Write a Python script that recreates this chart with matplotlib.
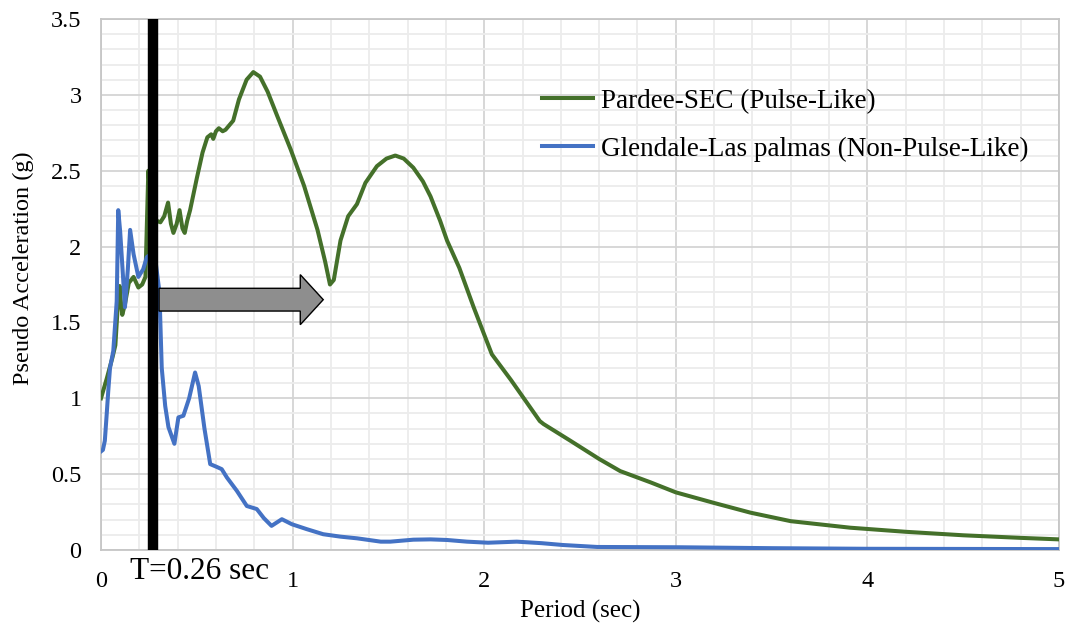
import matplotlib
matplotlib.use("Agg")
import matplotlib.pyplot as plt
from matplotlib.patches import FancyArrow
from matplotlib.ticker import MultipleLocator

plt.rcParams['font.family'] = ['Liberation Serif', 'DejaVu Serif']

# ---- data ----
pardee_T = [0, 0.03, 0.06, 0.075, 0.089, 0.097, 0.105, 0.111, 0.125, 0.145, 0.17, 0.195,
            0.215, 0.232, 0.247, 0.26, 0.29, 0.31, 0.33, 0.35, 0.365, 0.378, 0.395, 0.41,
            0.425, 0.437, 0.45, 0.465, 0.50, 0.53, 0.555, 0.575, 0.586, 0.60, 0.615, 0.635,
            0.65, 0.69, 0.72, 0.76, 0.795, 0.83, 0.87, 0.92, 0.99, 1.06, 1.13, 1.17, 1.195,
            1.215, 1.25, 1.29, 1.336, 1.38, 1.44, 1.49, 1.536, 1.58, 1.63, 1.68, 1.72, 1.77,
            1.806, 1.87, 1.945, 2.0, 2.04, 2.14, 2.29, 2.31, 2.45, 2.6, 2.71, 2.87, 3.0, 3.2,
            3.39, 3.6, 3.91, 4.2, 4.5, 4.8, 5.0]
pardee_SA = [1.0, 1.13, 1.27, 1.35, 1.64, 1.74, 1.62, 1.55, 1.62, 1.76, 1.80, 1.73,
             1.75, 1.80, 2.50, 2.30, 2.17, 2.16, 2.20, 2.29, 2.15, 2.09, 2.15, 2.24,
             2.12, 2.09, 2.17, 2.24, 2.45, 2.62, 2.72, 2.74, 2.71, 2.76, 2.78, 2.76,
             2.77, 2.83, 2.97, 3.10, 3.15, 3.12, 3.02, 2.86, 2.64, 2.40, 2.11, 1.90, 1.75,
             1.78, 2.04, 2.20, 2.28, 2.42, 2.53, 2.58, 2.60, 2.58, 2.52, 2.43, 2.33, 2.17,
             2.04, 1.86, 1.60, 1.42, 1.29, 1.12, 0.85, 0.83, 0.72, 0.60, 0.52, 0.445, 0.38, 0.31,
             0.246, 0.19, 0.147, 0.12, 0.097, 0.08, 0.07]

glendale_T = [0, 0.01, 0.02, 0.03, 0.038, 0.047, 0.064, 0.082, 0.09, 0.1, 0.125, 0.14, 0.152,
              0.17, 0.195, 0.22, 0.239, 0.26, 0.285, 0.305, 0.317, 0.335, 0.352, 0.383, 0.404,
              0.43, 0.46, 0.491, 0.51, 0.54, 0.57, 0.60, 0.63, 0.657, 0.709, 0.761, 0.813,
              0.85, 0.89, 0.944, 0.996, 1.075, 1.16, 1.25, 1.336, 1.46, 1.51, 1.63, 1.72,
              1.806, 1.91, 2.02, 2.17, 2.3, 2.41, 2.59, 3.02, 3.5, 4.0, 5.0]
glendale_SA = [0.65, 0.66, 0.72, 0.90, 1.05, 1.20, 1.31, 1.64, 2.24, 2.10, 1.60, 1.85, 2.11,
               1.95, 1.80, 1.85, 1.93, 1.95, 1.90, 1.70, 1.20, 0.95, 0.81, 0.70, 0.874,
               0.885, 1.0, 1.17, 1.08, 0.80, 0.566, 0.55, 0.533, 0.478, 0.39, 0.29, 0.27,
               0.21, 0.159, 0.203, 0.17, 0.137, 0.104, 0.088, 0.077, 0.055, 0.055, 0.068, 0.07,
               0.066, 0.055, 0.048, 0.055, 0.045, 0.033, 0.02, 0.018, 0.012, 0.008, 0.006]

pulse_T = 0.27
pulse_label = "T=0.26 sec"
series_labels = ["Pardee-SEC (Pulse-Like)", "Glendale-Las palmas (Non-Pulse-Like)"]
x_ticks = [0, 1, 2, 3, 4, 5]
y_ticks = [0, 0.5, 1, 1.5, 2, 2.5, 3, 3.5]
y_tick_labels = ['0', '0.5', '1', '1.5', '2', '2.5', '3', '3.5']

# ---- figure ----
fig = plt.figure(figsize=(10.69, 6.36), dpi=100)
ax = fig.add_axes([101/1069, 1 - 550/636, (1059 - 101)/1069, (550 - 19)/636])

ax.set_xlim(0, 5)
ax.set_ylim(0, 3.5)
ax.xaxis.set_minor_locator(MultipleLocator(0.2))
ax.yaxis.set_minor_locator(MultipleLocator(0.1))
ax.set_xticks(x_ticks)
ax.set_xticklabels([str(v) for v in x_ticks])
ax.set_yticks(y_ticks)
ax.set_yticklabels(y_tick_labels)
ax.grid(which='major', color='#d4d4d4', lw=1.3, zorder=0)
ax.grid(which='minor', color='#ececec', lw=1.3, zorder=0)
ax.set_axisbelow(True)
for s in ax.spines.values():
    s.set_color('#c6c6c6')
    s.set_linewidth(1.3)
ax.tick_params(which='both', length=0)
ax.tick_params(axis='x', pad=15, labelsize=17.5)
ax.tick_params(axis='y', pad=14, labelsize=17.5)

ax.plot(pardee_T, pardee_SA, color='#44702a', lw=2.9, solid_joinstyle='round',
        label=series_labels[0], zorder=3)
ax.plot(glendale_T, glendale_SA, color='#4472c4', lw=2.9, solid_joinstyle='round',
        label=series_labels[1], zorder=3)

ax.axvline(pulse_T, color='black', lw=7.5, zorder=4)
ax.text(0.15, -0.19, pulse_label, ha='left', va='baseline', fontsize=22.5,
        transform=ax.transData, clip_on=False)

arrow = FancyArrow(0.303, 1.65, 1.16 - 0.303, 0, width=0.15, head_width=0.33,
                   head_length=0.12, length_includes_head=True,
                   facecolor='#8e8e8e', edgecolor='black', lw=1.0, zorder=5)
ax.add_patch(arrow)

ax.set_xlabel('Period (sec)', fontsize=18, labelpad=6)
ax.set_ylabel('Pseudo Acceleration (g)', fontsize=17.5, labelpad=8)
ax.yaxis.set_label_coords(-0.07, 0.53)

leg = ax.legend(loc='center left', bbox_to_anchor=(0.46, 0.80), frameon=False,
                fontsize=19.5, handlelength=1.9, handletextpad=0.3, labelspacing=0.85,
                borderpad=0, borderaxespad=0)

fig.savefig('out.png', dpi=100)
